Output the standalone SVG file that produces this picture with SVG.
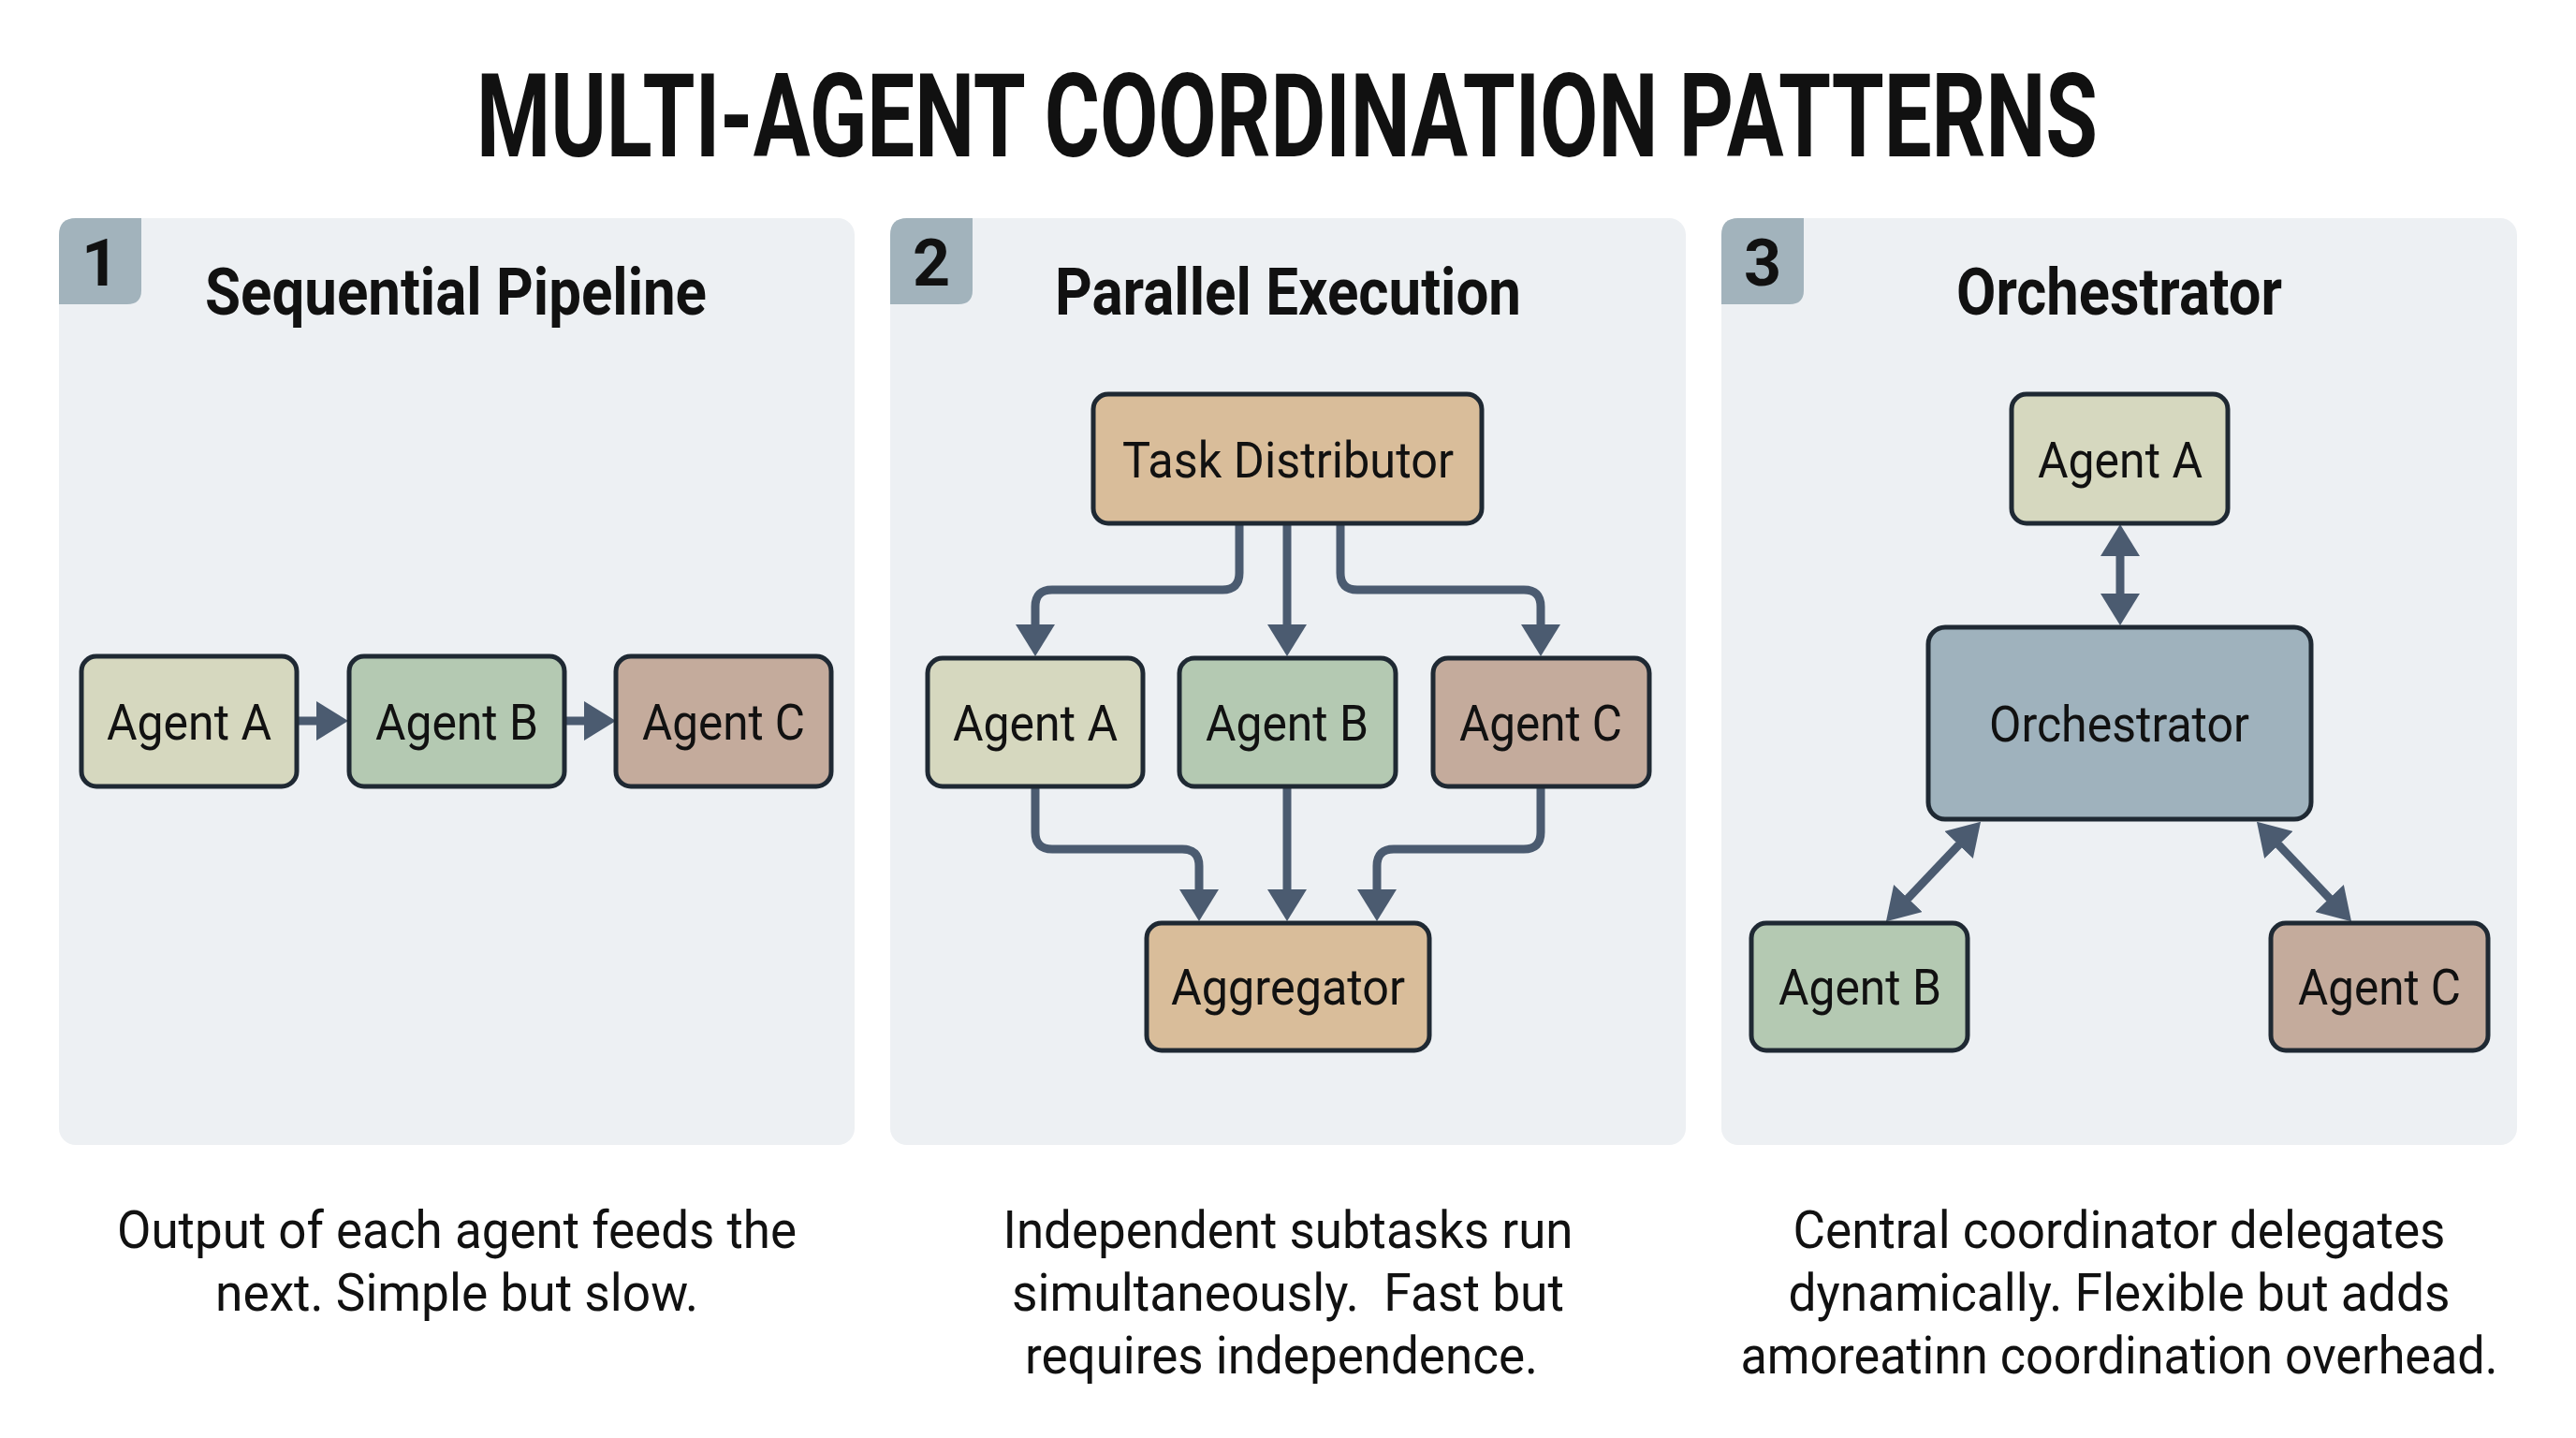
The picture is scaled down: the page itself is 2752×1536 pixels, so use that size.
<svg xmlns="http://www.w3.org/2000/svg" width="2752" height="1536" viewBox="0 0 2752 1536">
<defs>
<style>
.panel{fill:#edf0f3}
.badge{fill:#a2b3bc}
.badge-num{font-family:Roboto,"Liberation Sans",sans-serif;font-weight:700;font-size:70px;fill:#111;text-anchor:middle}
.ptitle{font-family:Roboto,"Liberation Sans",sans-serif;font-weight:700;font-size:70px;fill:#111;text-anchor:middle}
.box{stroke:#1f2933;stroke-width:5}
.lbl{font-family:Roboto,"Liberation Sans",sans-serif;font-size:54px;fill:#111;text-anchor:middle}
.cap{font-family:Roboto,"Liberation Sans",sans-serif;font-size:56px;fill:#111;text-anchor:middle}
.ya{fill:#d6d8bf}.gb{fill:#b4c9b2}.rc{fill:#c4ab9c}.tan{fill:#d9bd9a}.blue{fill:#9fb2bd}
.conn{fill:none;stroke:#4b5b70;stroke-width:9}
</style>
<marker id="ah" viewBox="0 0 34 42" markerWidth="34" markerHeight="42" refX="2" refY="21" orient="auto-start-reverse" markerUnits="userSpaceOnUse">
<path d="M0,0 L34,21 L0,42 z" fill="#4b5b70"/>
</marker>
</defs>
<rect width="2752" height="1536" fill="#ffffff"/>
<text x="1375" y="167" font-family="Roboto,'Liberation Sans',sans-serif" font-weight="700" font-size="124" fill="#111" text-anchor="middle" textLength="1732" lengthAdjust="spacingAndGlyphs">MULTI-AGENT COORDINATION PATTERNS</text>

<g id="panel1">
<rect class="panel" x="63" y="233" width="850" height="990" rx="18"/>
<path class="badge" d="M81,233 H151 V310 Q151,325 136,325 H63 V251 Q63,233 81,233 Z"/>
<text class="badge-num" x="107" y="305">1</text>
<text class="ptitle" x="487" y="336" textLength="536" lengthAdjust="spacingAndGlyphs">Sequential Pipeline</text>
</g>
<g id="panel2">
<rect class="panel" x="951" y="233" width="850" height="990" rx="18"/>
<path class="badge" d="M969,233 H1039 V310 Q1039,325 1024,325 H951 V251 Q951,233 969,233 Z"/>
<text class="badge-num" x="995" y="305">2</text>
<text class="ptitle" x="1376" y="336" textLength="498" lengthAdjust="spacingAndGlyphs">Parallel Execution</text>
</g>
<g id="panel3">
<rect class="panel" x="1839" y="233" width="850" height="990" rx="18"/>
<path class="badge" d="M1857,233 H1927 V310 Q1927,325 1912,325 H1839 V251 Q1839,233 1857,233 Z"/>
<text class="badge-num" x="1883" y="305">3</text>
<text class="ptitle" x="2264" y="336" textLength="348" lengthAdjust="spacingAndGlyphs">Orchestrator</text>
</g>

<g id="connectors">
<path class="conn" d="M319,770 H340" marker-end="url(#ah)"/>
<path class="conn" d="M605,770 H626" marker-end="url(#ah)"/>
<path class="conn" d="M1324,561 V612 Q1324,630 1306,630 H1124 Q1106,630 1106,648 V669" marker-end="url(#ah)"/>
<path class="conn" d="M1375,561 V669" marker-end="url(#ah)"/>
<path class="conn" d="M1432,561 V612 Q1432,630 1450,630 H1628 Q1646,630 1646,648 V669" marker-end="url(#ah)"/>
<path class="conn" d="M1106,842 V889 Q1106,907 1124,907 H1263 Q1281,907 1281,925 V952" marker-end="url(#ah)"/>
<path class="conn" d="M1375,842 V952" marker-end="url(#ah)"/>
<path class="conn" d="M1646,842 V889 Q1646,907 1628,907 H1489 Q1471,907 1471,925 V952" marker-end="url(#ah)"/>
<path class="conn" d="M2265,592 V636" marker-start="url(#ah)" marker-end="url(#ah)"/>
<path class="conn" d="M2094,901 L2037,961" marker-start="url(#ah)" marker-end="url(#ah)"/>
<path class="conn" d="M2433,901 L2490,961" marker-start="url(#ah)" marker-end="url(#ah)"/>
</g>

<g id="p1-agent-a"><rect class="box ya" x="87" y="701" width="230" height="139" rx="16"/><text class="lbl" x="202" y="790" textLength="176" lengthAdjust="spacingAndGlyphs">Agent A</text></g>
<g id="p1-agent-b"><rect class="box gb" x="373" y="701" width="230" height="139" rx="16"/><text class="lbl" x="488" y="790" textLength="174" lengthAdjust="spacingAndGlyphs">Agent B</text></g>
<g id="p1-agent-c"><rect class="box rc" x="658" y="701" width="230" height="139" rx="16"/><text class="lbl" x="773" y="790" textLength="174" lengthAdjust="spacingAndGlyphs">Agent C</text></g>

<g id="p2-task-distributor"><rect class="box tan" x="1168" y="421" width="415" height="138" rx="16"/><text class="lbl" x="1376" y="510" textLength="354" lengthAdjust="spacingAndGlyphs">Task Distributor</text></g>
<g id="p2-agent-a"><rect class="box ya" x="991" y="703" width="230" height="137" rx="16"/><text class="lbl" x="1106" y="791" textLength="176" lengthAdjust="spacingAndGlyphs">Agent A</text></g>
<g id="p2-agent-b"><rect class="box gb" x="1260" y="703" width="231" height="137" rx="16"/><text class="lbl" x="1375" y="791" textLength="174" lengthAdjust="spacingAndGlyphs">Agent B</text></g>
<g id="p2-agent-c"><rect class="box rc" x="1531" y="703" width="231" height="137" rx="16"/><text class="lbl" x="1646" y="791" textLength="174" lengthAdjust="spacingAndGlyphs">Agent C</text></g>
<g id="p2-aggregator"><rect class="box tan" x="1225" y="986" width="302" height="136" rx="16"/><text class="lbl" x="1376" y="1073" textLength="250" lengthAdjust="spacingAndGlyphs">Aggregator</text></g>

<g id="p3-agent-a"><rect class="box ya" x="2149" y="421" width="231" height="138" rx="16"/><text class="lbl" x="2265" y="510" textLength="176" lengthAdjust="spacingAndGlyphs">Agent A</text></g>
<g id="p3-orchestrator"><rect class="box blue" x="2060" y="670" width="409" height="205" rx="18"/><text class="lbl" x="2264" y="792" textLength="278" lengthAdjust="spacingAndGlyphs">Orchestrator</text></g>
<g id="p3-agent-b"><rect class="box gb" x="1871" y="986" width="231" height="136" rx="16"/><text class="lbl" x="1987" y="1073" textLength="174" lengthAdjust="spacingAndGlyphs">Agent B</text></g>
<g id="p3-agent-c"><rect class="box rc" x="2426" y="986" width="232" height="136" rx="16"/><text class="lbl" x="2542" y="1073" textLength="174" lengthAdjust="spacingAndGlyphs">Agent C</text></g>

<g id="captions">
<text class="cap" x="488" y="1333" textLength="726" lengthAdjust="spacingAndGlyphs">Output of each agent feeds the</text>
<text class="cap" x="488" y="1400" textLength="516" lengthAdjust="spacingAndGlyphs">next. Simple but slow.</text>
<text class="cap" x="1376" y="1333" textLength="609" lengthAdjust="spacingAndGlyphs">Independent subtasks run</text>
<text class="cap" x="1376" y="1400" textLength="590" lengthAdjust="spacingAndGlyphs" style="white-space:pre">simultaneously.  Fast but</text>
<text class="cap" x="1369" y="1467" textLength="548" lengthAdjust="spacingAndGlyphs">requires independence.</text>
<text class="cap" x="2264" y="1333" textLength="697" lengthAdjust="spacingAndGlyphs">Central coordinator delegates</text>
<text class="cap" x="2264" y="1400" textLength="707" lengthAdjust="spacingAndGlyphs">dynamically. Flexible but adds</text>
<text class="cap" x="2264" y="1467" textLength="809" lengthAdjust="spacingAndGlyphs">amoreatinn coordination overhead.</text>
</g>
</svg>
